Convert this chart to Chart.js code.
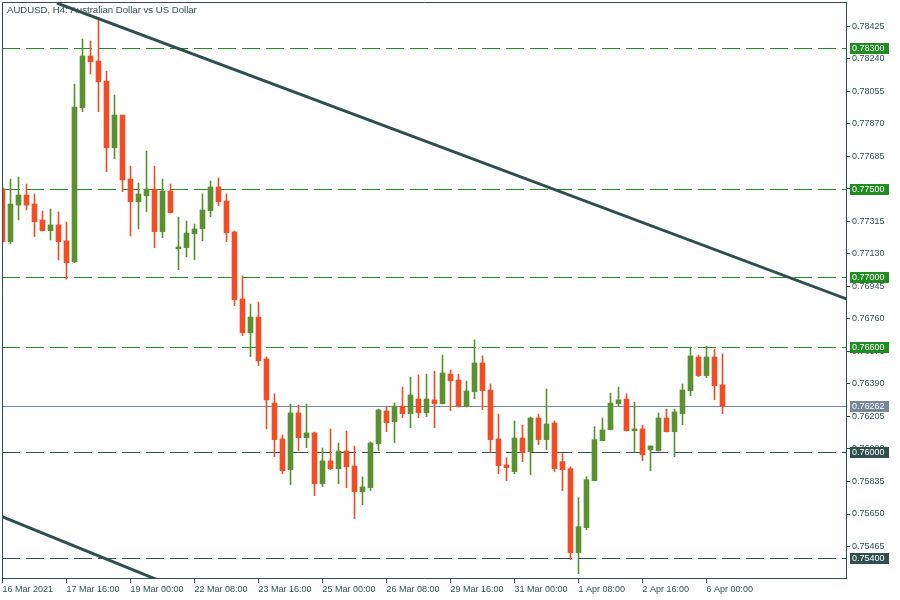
<!DOCTYPE html>
<html>
<head>
<meta charset="utf-8">
<title>AUDUSD H4</title>
<script src="https://cdn.jsdelivr.net/npm/chart.js@4.4.1/dist/chart.umd.min.js"></script>
<style>
  html, body { margin: 0; padding: 0; background: #fff; }
</style>
</head>
<body>
<canvas id="chart" width="900" height="600"></canvas>
<script>
// CANDLE DATA (AUDUSD H4), one entry per bar
const opens = [
  0.77500, 0.77199, 0.77407, 0.77464, 0.77413, 0.77322, 0.77261, 0.77294, 0.77203, 0.77085,
  0.77961, 0.78255, 0.78226, 0.78112, 0.77733, 0.77919, 0.77555, 0.77426, 0.77460, 0.77498,
  0.77256, 0.77487, 0.77159, 0.77165, 0.77244, 0.77273, 0.77375, 0.77510, 0.77430, 0.77254,
  0.76873, 0.76681, 0.76770, 0.76532, 0.76281, 0.76077, 0.75902, 0.76225, 0.76084, 0.76111,
  0.75822, 0.75952, 0.75908, 0.76008, 0.75923, 0.75777, 0.75800, 0.76050, 0.76236, 0.76175,
  0.76264, 0.76221, 0.76304, 0.76226, 0.76299, 0.76277, 0.76446, 0.76412, 0.76260, 0.76346,
  0.76509, 0.76355, 0.76077, 0.75929, 0.75891, 0.76082, 0.76005, 0.76196, 0.76073, 0.76168,
  0.75948, 0.75908, 0.75430, 0.75572, 0.75840, 0.76067, 0.76130, 0.76277, 0.76304, 0.76124,
  0.76134, 0.76016, 0.76010, 0.76196, 0.76118, 0.76221, 0.76351, 0.76543, 0.76437, 0.76543,
  0.76384
];
const highs = [
  0.77510, 0.77555, 0.77567, 0.77527, 0.77470, 0.77373, 0.77385, 0.77368, 0.77311, 0.78095,
  0.78351, 0.78340, 0.78465, 0.78169, 0.78033, 0.77919, 0.77629, 0.77532, 0.77714, 0.77629,
  0.77555, 0.77527, 0.77339, 0.77316, 0.77299, 0.77470, 0.77544, 0.77561, 0.77470, 0.77260,
  0.77004, 0.76844, 0.76856, 0.76543, 0.76333, 0.76100, 0.76276, 0.76270, 0.76276, 0.76116,
  0.76025, 0.76134, 0.76054, 0.76122, 0.76037, 0.75861, 0.76060, 0.76247, 0.76264, 0.76281,
  0.76372, 0.76429, 0.76441, 0.76446, 0.76463, 0.76554, 0.76469, 0.76446, 0.76406, 0.76640,
  0.76549, 0.76390, 0.76219, 0.75970, 0.76179, 0.76156, 0.76202, 0.76219, 0.76361, 0.76179,
  0.75993, 0.75919, 0.75743, 0.75862, 0.76147, 0.76196, 0.76338, 0.76372, 0.76333, 0.76287,
  0.76156, 0.76037, 0.76225, 0.76247, 0.76247, 0.76390, 0.76600, 0.76554, 0.76605, 0.76588,
  0.76560
];
const lows = [
  0.77191, 0.77187, 0.77322, 0.77379, 0.77227, 0.77260, 0.77208, 0.77095, 0.76985, 0.77079,
  0.77938, 0.78152, 0.77938, 0.77597, 0.77671, 0.77483, 0.77231, 0.77271, 0.77369, 0.77165,
  0.77221, 0.77362, 0.77039, 0.77113, 0.77096, 0.77204, 0.77341, 0.77403, 0.77199, 0.76835,
  0.76664, 0.76545, 0.76494, 0.76134, 0.75976, 0.75879, 0.75817, 0.76010, 0.76027, 0.75754,
  0.75805, 0.75902, 0.75822, 0.75800, 0.75624, 0.75703, 0.75783, 0.76010, 0.76118, 0.76056,
  0.76198, 0.76141, 0.76198, 0.76204, 0.76141, 0.76276, 0.76238, 0.76259, 0.76259, 0.76306,
  0.76243, 0.75999, 0.75879, 0.75840, 0.75879, 0.75948, 0.75874, 0.76044, 0.76016, 0.75891,
  0.75783, 0.75390, 0.75311, 0.75561, 0.75838, 0.76065, 0.76128, 0.76260, 0.76122, 0.75999,
  0.75953, 0.75895, 0.76008, 0.76117, 0.75976, 0.76158, 0.76323, 0.76431, 0.76425, 0.76300,
  0.76221
];
const closes = [
  0.77199, 0.77413, 0.77464, 0.77407, 0.77312, 0.77261, 0.77294, 0.77199, 0.77079, 0.77965,
  0.78255, 0.78222, 0.78108, 0.77733, 0.77919, 0.77550, 0.77426, 0.77470, 0.77498, 0.77256,
  0.77487, 0.77364, 0.77169, 0.77248, 0.77271, 0.77379, 0.77510, 0.77426, 0.77250, 0.76869,
  0.76681, 0.76770, 0.76522, 0.76299, 0.76073, 0.75896, 0.76225, 0.76084, 0.76111, 0.75822,
  0.75952, 0.75908, 0.76008, 0.75919, 0.75777, 0.75804, 0.76054, 0.76242, 0.76169, 0.76264,
  0.76221, 0.76327, 0.76226, 0.76304, 0.76277, 0.76452, 0.76408, 0.76260, 0.76350, 0.76509,
  0.76351, 0.76073, 0.75925, 0.75914, 0.76082, 0.75999, 0.76196, 0.76073, 0.76162, 0.75908,
  0.75902, 0.75430, 0.75578, 0.75845, 0.76073, 0.76128, 0.76281, 0.76299, 0.76124, 0.76134,
  0.75987, 0.76037, 0.76196, 0.76118, 0.76230, 0.76355, 0.76549, 0.76437, 0.76543, 0.76380,
  0.76262
];

// TIME AXIS LABELS (every 8th bar)
const timeTickBars = [0, 8, 16, 24, 32, 40, 48, 56, 64, 72, 80, 88];
const timeTickLabels = ["16 Mar 2021", "17 Mar 16:00", "19 Mar 00:00", "22 Mar 08:00", "23 Mar 16:00",
  "25 Mar 00:00", "26 Mar 08:00", "29 Mar 16:00", "31 Mar 00:00", "1 Apr 08:00", "2 Apr 16:00", "6 Apr 00:00"];

// PRICE AXIS LABELS
const priceTicks = [0.78425, 0.78240, 0.78055, 0.77870, 0.77685, 0.77500, 0.77315, 0.77130, 0.76945,
  0.76760, 0.76575, 0.76390, 0.76205, 0.76020, 0.75835, 0.75650, 0.75465];

// HORIZONTAL LEVELS
const resistanceLevels = [0.78300, 0.77500, 0.77000, 0.76600];
const supportLevels = [0.76000, 0.75400];
const lastPrice = closes[closes.length - 1];

// CHANNEL LINES (bar index, price)
const upperChannel = [[6.8, 0.78556], [105.5, 0.76873]];
const lowerChannel = [[-0.06, 0.75635], [20, 0.75264]];

const UP = "#5a9232";
const DOWN = "#f24e26";
const DARK = "#2f4f4f";
const GREEN = "#228b22";
const BID = "#778899";
const FONT = { family: "'Liberation Sans', Arial, sans-serif", size: 9 };

const colors = opens.map((o, i) => closes[i] >= o ? UP : DOWN);
const wickData = highs.map((h, i) => ({ x: i, y: [lows[i], h] }));
const bodyData = opens.map((o, i) => ({ x: i, y: [Math.min(o, closes[i]), Math.max(o, closes[i])] }));

function labelBox(ctx, y, value, bg) {
  ctx.fillStyle = bg;
  ctx.fillRect(850, Math.round(y) - 5, 39, 11);
  ctx.fillStyle = "#ffffff";
  ctx.textAlign = "left";
  ctx.textBaseline = "middle";
  ctx.fillText(value.toFixed(5), 852, Math.round(y) + 0.5);
}

const overlay = {
  id: "overlay",
  beforeDatasetsDraw(chart) {
    const { ctx, chartArea: a, scales: { y } } = chart;
    ctx.save();
    ctx.font = "9.6px " + FONT.family;
    ctx.fillStyle = DARK;
    ctx.textBaseline = "middle";
    ctx.fillText("AUDUSD, H4: Australian Dollar vs US Dollar", 7, 10.5);

    ctx.lineWidth = 1;
    ctx.setLineDash([18, 6]);
    resistanceLevels.concat(supportLevels).forEach(v => {
      const py = Math.round(y.getPixelForValue(v)) + 0.5;
      ctx.strokeStyle = resistanceLevels.includes(v) ? GREEN : DARK;
      ctx.beginPath();
      ctx.moveTo(a.left, py);
      ctx.lineTo(a.right, py);
      ctx.stroke();
    });
    ctx.setLineDash([]);
    const by = Math.round(y.getPixelForValue(lastPrice)) + 0.5;
    ctx.strokeStyle = BID;
    ctx.beginPath();
    ctx.moveTo(a.left, by);
    ctx.lineTo(a.right, by);
    ctx.stroke();
    ctx.restore();
  },
  afterDatasetsDraw(chart) {
    const { ctx, chartArea: a, scales: { x, y } } = chart;
    ctx.save();
    ctx.beginPath();
    ctx.rect(a.left, a.top, a.right - a.left, a.bottom - a.top);
    ctx.clip();
    ctx.strokeStyle = DARK;
    ctx.lineWidth = 3;
    [upperChannel, lowerChannel].forEach(line => {
      ctx.beginPath();
      ctx.moveTo(x.getPixelForValue(line[0][0]), y.getPixelForValue(line[0][1]));
      ctx.lineTo(x.getPixelForValue(line[1][0]), y.getPixelForValue(line[1][1]));
      ctx.stroke();
    });
    ctx.restore();
  },
  afterDraw(chart) {
    const { ctx, chartArea: a, scales: { y } } = chart;
    ctx.save();
    ctx.strokeStyle = DARK;
    ctx.lineWidth = 1;
    ctx.beginPath();
    ctx.moveTo(a.left + 0.5, a.bottom);
    ctx.lineTo(a.left + 0.5, a.top + 0.5);
    ctx.lineTo(a.right + 0.5, a.top + 0.5);
    ctx.stroke();
    ctx.font = "9px " + FONT.family;
    resistanceLevels.forEach(v => labelBox(ctx, y.getPixelForValue(v), v, GREEN));
    supportLevels.forEach(v => labelBox(ctx, y.getPixelForValue(v), v, DARK));
    labelBox(ctx, y.getPixelForValue(lastPrice), lastPrice, BID);
    ctx.restore();
  }
};

new Chart(document.getElementById("chart"), {
  type: "bar",
  data: {
    datasets: [
      {
        label: "Body",
        data: bodyData,
        backgroundColor: colors,
        barThickness: 5,
        minBarLength: 1,
        grouped: false,
        order: 0
      },
      {
        label: "Wick",
        data: wickData,
        backgroundColor: colors,
        barThickness: 1,
        grouped: false,
        order: 1
      }
    ]
  },
  options: {
    responsive: false,
    animation: false,
    layout: { padding: { left: 2, top: 2, right: 0, bottom: 0 } },
    plugins: {
      legend: { display: false },
      tooltip: { enabled: false }
    },
    scales: {
      x: {
        type: "linear",
        min: -0.0625,
        max: 105.4375,
        offset: false,
        afterFit(s) { s.height = 22; s.paddingLeft = 0; s.paddingRight = 0; },
        afterBuildTicks(s) { s.ticks = timeTickBars.map(v => ({ value: v })); },
        ticks: {
          autoSkip: false,
          maxRotation: 0,
          align: "start",
          padding: 1,
          color: DARK,
          font: FONT,
          callback: (v, i) => timeTickLabels[i]
        },
        grid: { drawOnChartArea: false, offset: false, tickLength: 5, color: DARK },
        border: { color: DARK }
      },
      y: {
        position: "right",
        min: 0.75286,
        max: 0.78562,
        afterFit(s) { s.width = 54; s.paddingTop = 0; s.paddingBottom = 0; },
        afterBuildTicks(s) { s.ticks = priceTicks.map(v => ({ value: v })); },
        ticks: {
          autoSkip: false,
          padding: 2,
          color: DARK,
          font: FONT,
          callback: v => v.toFixed(5)
        },
        grid: { drawOnChartArea: false, tickLength: 4, color: DARK },
        border: { color: DARK }
      }
    }
  },
  plugins: [overlay]
});
</script>
</body>
</html>
